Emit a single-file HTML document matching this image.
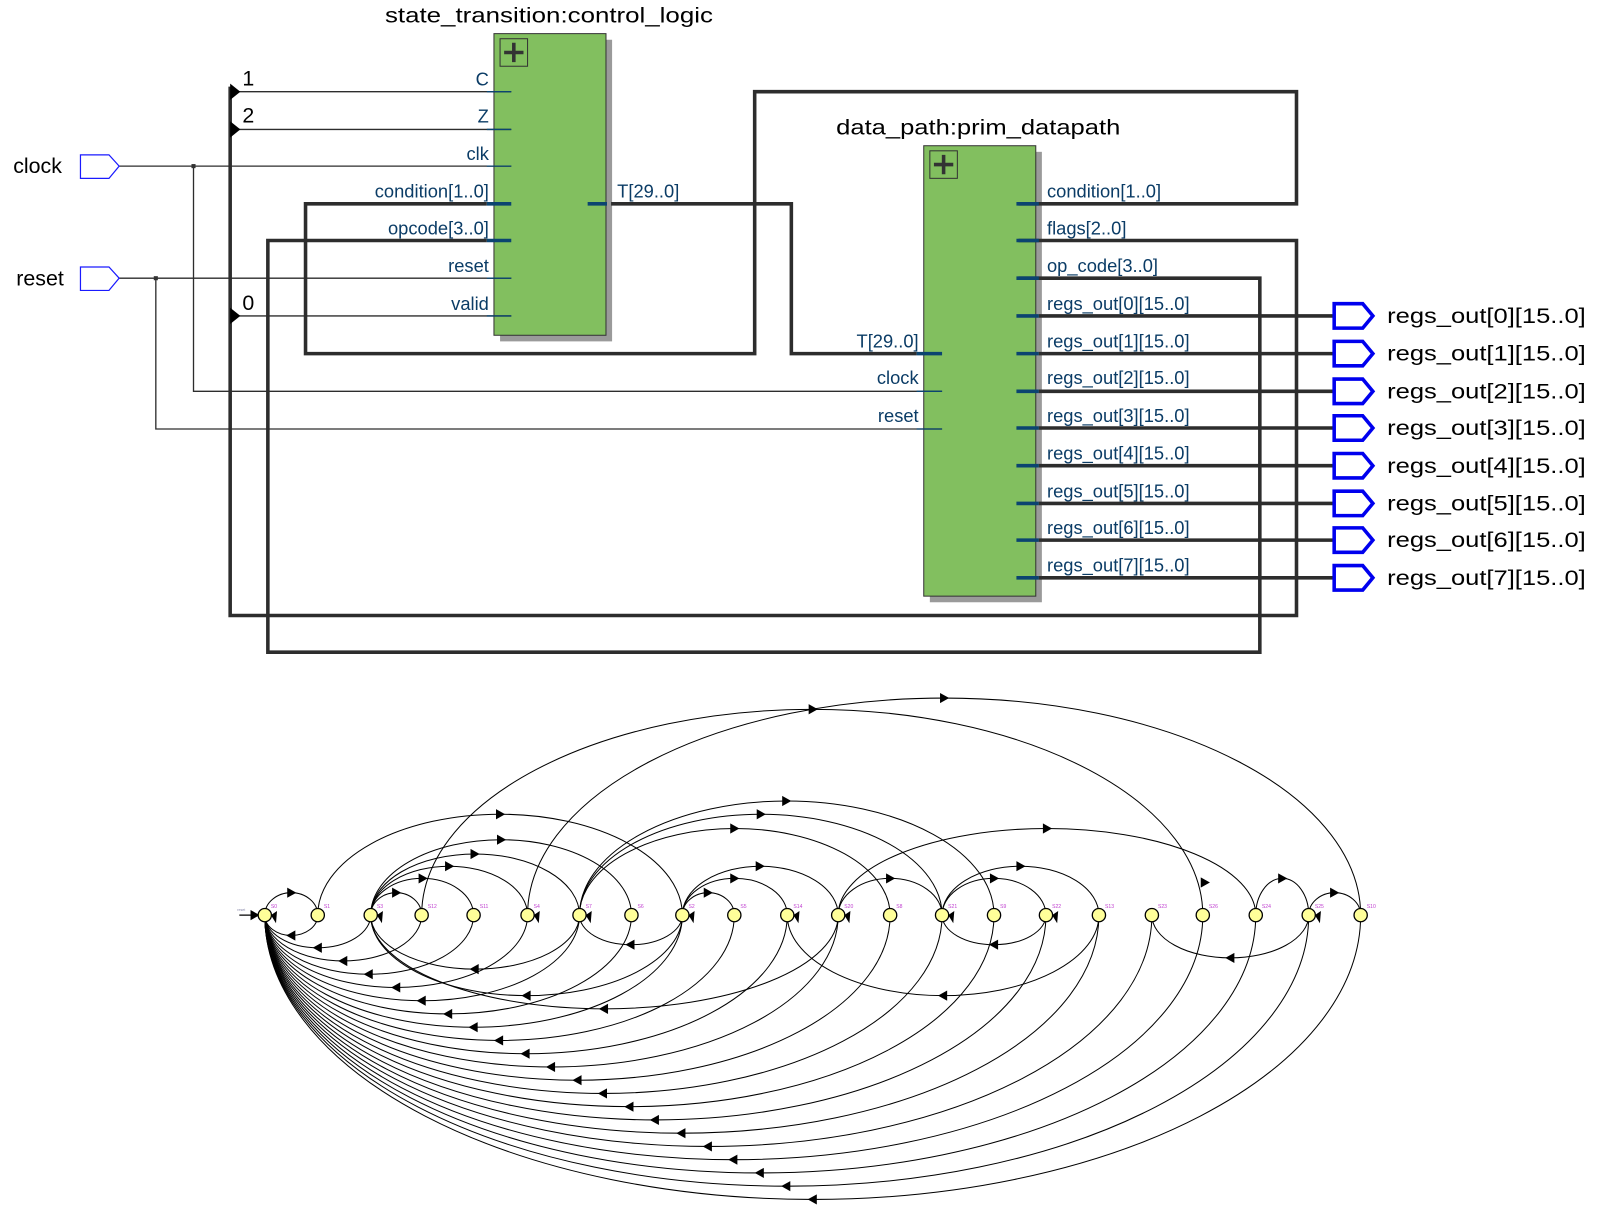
<!DOCTYPE html>
<html><head><meta charset="utf-8"><style>
html,body{margin:0;padding:0;background:#fff;width:1600px;height:1230px;overflow:hidden}
svg{display:block}
.w{fill:none;stroke:#2d2d2d;stroke-width:3.5}
.t{fill:none;stroke:#2d2d2d;stroke-width:1.3}
.pl{font-family:"Liberation Sans",sans-serif;font-size:18px;fill:#0b3c66}
.bl{font-family:"Liberation Sans",sans-serif;font-size:21px;fill:#000}
.a{fill:none;stroke:#000;stroke-width:1}
.nl{font-family:"Liberation Sans",sans-serif;font-size:5px;fill:#c040d0}
</style></head><body>
<svg width="1600" height="1230" viewBox="0 0 1571 1207" preserveAspectRatio="none" xmlns="http://www.w3.org/2000/svg">
<defs>
<path id="ar" d="M5 0 L-4 -5 L-4 5Z" fill="#000"/>
<path id="al" d="M-5 0 L4 -5 L4 5Z" fill="#000"/>
<path id="pt" d="M-6 -8 L4 0 L-6 8Z" fill="#000"/>
</defs>

<!-- blocks -->
<rect x="491" y="39" width="110" height="296" fill="#9a9a9a"/>
<rect x="485" y="33" width="110" height="296" fill="#82bf5f" stroke="#333" stroke-width="1"/>
<rect x="491" y="38" width="27" height="27" fill="none" stroke="#333" stroke-width="1"/>
<path d="M504.5 42 V61 M495 51.5 H514" stroke="#333" stroke-width="3.5"/>
<text class="bl" x="378" y="22" textLength="322" lengthAdjust="spacingAndGlyphs">state_transition:control_logic</text>

<rect x="913" y="149" width="110" height="442" fill="#9a9a9a"/>
<rect x="907" y="143" width="110" height="442" fill="#82bf5f" stroke="#333" stroke-width="1"/>
<rect x="913" y="148" width="27" height="27" fill="none" stroke="#333" stroke-width="1"/>
<path d="M926.5 152 V171 M917 161.5 H936" stroke="#333" stroke-width="3.5"/>
<text class="bl" x="821" y="132" textLength="279" lengthAdjust="spacingAndGlyphs">data_path:prim_datapath</text>

<!-- thick wires -->
<path class="w" d="M226 85 V604 H1273 V236 H1000"/>
<path class="w" d="M1000 200 H1273 V90 H741 V347 H300 V200 H478"/>
<path class="w" d="M600 200 H777 V347 H900"/>
<path class="w" d="M478 236 H263 V640 H1237 V273 H1000"/>
<!-- thin wires -->
<path class="t" d="M117 163 H502 M190 163 V384 H925 M117 273 H502 M153 273 V421 H925"/>
<path class="t" d="M226 90 H502 M226 127 H502 M226 310 H502"/>
<rect x="188" y="161" width="4" height="4" fill="#333"/>
<rect x="151" y="271" width="4" height="4" fill="#333"/>
<use href="#pt" x="232" y="90"/><use href="#pt" x="232" y="127"/><use href="#pt" x="232" y="310"/>
<text class="bl" x="238" y="84" font-size="18">1</text>
<text class="bl" x="238" y="120" font-size="18">2</text>
<text class="bl" x="238" y="304" font-size="18">0</text>

<!-- pin stubs -->
<g stroke="#0b4470" stroke-width="3.5">
<path d="M478 200 H502 M478 236 H502 M577 200 H596 M900 347 H925"/>
<path d="M998 200 H1020 M998 236 H1020 M998 273 H1020 M998 310 H1020 M998 347 H1020 M998 384 H1020 M998 420 H1020 M998 457 H1020 M998 494 H1020 M998 530 H1020 M998 567 H1020"/>
</g>
<g stroke="#0b4470" stroke-width="1.3"><path d="M478 90 H502 M478 127 H502 M478 163 H502 M478 273 H502 M478 310 H502 M900 384 H925 M900 421 H925"/></g>

<!-- pin labels -->
<g class="pl" text-anchor="end">
<text x="480" y="84">C</text><text x="480" y="120">Z</text><text x="480" y="157">clk</text>
<text x="480" y="194">condition[1..0]</text><text x="480" y="230">opcode[3..0]</text>
<text x="480" y="267">reset</text><text x="480" y="304">valid</text>
<text x="902" y="341">T[29..0]</text><text x="902" y="377">clock</text><text x="902" y="414">reset</text>
</g>
<g class="pl">
<text x="606" y="194">T[29..0]</text>
<text x="1028" y="194">condition[1..0]</text><text x="1028" y="230">flags[2..0]</text><text x="1028" y="267">op_code[3..0]</text>
<text x="1028" y="304">regs_out[0][15..0]</text><text x="1028" y="341">regs_out[1][15..0]</text>
<text x="1028" y="377">regs_out[2][15..0]</text><text x="1028" y="414">regs_out[3][15..0]</text>
<text x="1028" y="451">regs_out[4][15..0]</text><text x="1028" y="488">regs_out[5][15..0]</text>
<text x="1028" y="524">regs_out[6][15..0]</text><text x="1028" y="561">regs_out[7][15..0]</text>
</g>

<!-- input ports -->
<g fill="#fff" stroke="#1a1aff" stroke-width="1.2">
<path d="M79 152 H107 L117 163 L107 175 H79Z"/>
<path d="M79 262 H107 L117 273 L107 285 H79Z"/>
</g>
<text class="bl" x="13" y="170">clock</text>
<text class="bl" x="16" y="280">reset</text>

<!-- output ports -->
<g class="w">
<path d="M1020 310 H1310 M1020 347 H1310 M1020 384 H1310 M1020 420 H1310 M1020 457 H1310 M1020 494 H1310 M1020 530 H1310 M1020 567 H1310"/>
</g>
<g fill="#fff" stroke="#0000ee" stroke-width="3.5">
<path d="M1310 298 H1338 L1348 310 L1338 322 H1310Z"/>
<path d="M1310 335 H1338 L1348 347 L1338 359 H1310Z"/>
<path d="M1310 372 H1338 L1348 384 L1338 396 H1310Z"/>
<path d="M1310 408 H1338 L1348 420 L1338 432 H1310Z"/>
<path d="M1310 445 H1338 L1348 457 L1338 469 H1310Z"/>
<path d="M1310 482 H1338 L1348 494 L1338 506 H1310Z"/>
<path d="M1310 518 H1338 L1348 530 L1338 542 H1310Z"/>
<path d="M1310 555 H1338 L1348 567 L1338 579 H1310Z"/>
</g>
<g class="bl">
<text x="1362" y="317" textLength="195" lengthAdjust="spacingAndGlyphs">regs_out[0][15..0]</text>
<text x="1362" y="354" textLength="195" lengthAdjust="spacingAndGlyphs">regs_out[1][15..0]</text>
<text x="1362" y="391" textLength="195" lengthAdjust="spacingAndGlyphs">regs_out[2][15..0]</text>
<text x="1362" y="427" textLength="195" lengthAdjust="spacingAndGlyphs">regs_out[3][15..0]</text>
<text x="1362" y="464" textLength="195" lengthAdjust="spacingAndGlyphs">regs_out[4][15..0]</text>
<text x="1362" y="501" textLength="195" lengthAdjust="spacingAndGlyphs">regs_out[5][15..0]</text>
<text x="1362" y="537" textLength="195" lengthAdjust="spacingAndGlyphs">regs_out[6][15..0]</text>
<text x="1362" y="574" textLength="195" lengthAdjust="spacingAndGlyphs">regs_out[7][15..0]</text>
</g>

<!-- STATE DIAGRAM -->
<g class="a">
<path d="M260 898 A26 22 0 0 1 312 898"/>
<path d="M414 898 A383.5 202 0 0 1 1181 898"/>
<path d="M518 898 A409 213 0 0 1 1336 898"/>
<path d="M312 898 A179 99 0 0 1 670 898"/>
<path d="M364 898 A25 22 0 0 1 414 898"/>
<path d="M364 898 A50.5 36 0 0 1 465 898"/>
<path d="M364 898 A77 48 0 0 1 518 898"/>
<path d="M364 898 A102.5 60 0 0 1 569 898"/>
<path d="M364 898 A128 74 0 0 1 620 898"/>
<path d="M569 898 A152.5 85 0 0 1 874 898"/>
<path d="M569 898 A178 99 0 0 1 925 898"/>
<path d="M569 898 A203.5 112 0 0 1 976 898"/>
<path d="M670 898 A25.5 22 0 0 1 721 898"/>
<path d="M670 898 A51.5 36 0 0 1 773 898"/>
<path d="M670 898 A76.5 48 0 0 1 823 898"/>
<path d="M823 898 A51 36 0 0 1 925 898"/>
<path d="M823 898 A205 85 0 0 1 1233 898"/>
<path d="M925 898 A51 36 0 0 1 1027 898"/>
<path d="M925 898 A77 48 0 0 1 1079 898"/>
<path d="M1233 898 A26 36 0 0 1 1285 898"/>
<path d="M1285 898 A25.5 22 0 0 1 1336 898"/>
<path d="M312 898 A26 20 0 0 1 260 898"/>
<path d="M364 898 A52 32 0 0 1 260 898"/>
<path d="M414 898 A77 45 0 0 1 260 898"/>
<path d="M465 898 A102.5 58 0 0 1 260 898"/>
<path d="M518 898 A129 71 0 0 1 260 898"/>
<path d="M569 898 A154.5 84 0 0 1 260 898"/>
<path d="M620 898 A180 97 0 0 1 260 898"/>
<path d="M670 898 A205 110 0 0 1 260 898"/>
<path d="M721 898 A230.5 123 0 0 1 260 898"/>
<path d="M773 898 A256.5 136 0 0 1 260 898"/>
<path d="M823 898 A281.5 149 0 0 1 260 898"/>
<path d="M874 898 A307 162 0 0 1 260 898"/>
<path d="M925 898 A332.5 175 0 0 1 260 898"/>
<path d="M976 898 A358 188 0 0 1 260 898"/>
<path d="M1027 898 A383.5 201 0 0 1 260 898"/>
<path d="M1079 898 A409.5 214 0 0 1 260 898"/>
<path d="M1131 898 A435.5 227 0 0 1 260 898"/>
<path d="M1181 898 A460.5 240 0 0 1 260 898"/>
<path d="M1233 898 A486.5 253 0 0 1 260 898"/>
<path d="M1285 898 A512.5 266 0 0 1 260 898"/>
<path d="M1336 898 A538 279 0 0 1 260 898"/>
<path d="M670 898 A50.5 29 0 0 1 569 898"/>
<path d="M1027 898 A51 29 0 0 1 925 898"/>
<path d="M1079 898 A153 79 0 0 1 773 898"/>
<path d="M569 898 A102.5 53 0 0 1 364 898"/>
<path d="M670 898 A153 79 0 0 1 364 898"/>
<path d="M823 898 A229.5 92 0 0 1 364 898"/>
<path d="M1285 898 A77 42 0 0 1 1131 898"/>
<path d="M235 898 H254" stroke-width="1.3"/>
</g>
<g>
<use href="#ar" x="286" y="876"/><use href="#ar" x="798" y="696"/><use href="#ar" x="927" y="685"/>
<use href="#ar" x="491" y="799"/><use href="#ar" x="389" y="876"/><use href="#ar" x="415" y="862"/>
<use href="#ar" x="441" y="850"/><use href="#ar" x="466" y="838"/><use href="#ar" x="492" y="824"/>
<use href="#ar" x="721" y="813"/><use href="#ar" x="747" y="799"/><use href="#ar" x="772" y="786"/>
<use href="#ar" x="695" y="876"/><use href="#ar" x="721" y="862"/><use href="#ar" x="746" y="850"/>
<use href="#ar" x="874" y="862"/><use href="#ar" x="1028" y="813"/><use href="#ar" x="976" y="862"/>
<use href="#ar" x="1002" y="850"/><use href="#ar" x="1259" y="862"/><use href="#ar" x="1310" y="876"/>
<use href="#ar" x="1183" y="866"/>
<use href="#al" x="286" y="918"/>
<use href="#al" x="312" y="930"/><use href="#al" x="337" y="943"/><use href="#al" x="362" y="956"/>
<use href="#al" x="389" y="969"/><use href="#al" x="414" y="982"/><use href="#al" x="440" y="995"/>
<use href="#al" x="465" y="1008"/><use href="#al" x="490" y="1021"/><use href="#al" x="516" y="1034"/>
<use href="#al" x="541" y="1047"/><use href="#al" x="567" y="1060"/><use href="#al" x="592" y="1073"/>
<use href="#al" x="618" y="1086"/><use href="#al" x="643" y="1099"/><use href="#al" x="669" y="1112"/>
<use href="#al" x="695" y="1125"/><use href="#al" x="720" y="1138"/><use href="#al" x="746" y="1151"/>
<use href="#al" x="772" y="1164"/><use href="#al" x="798" y="1177"/>
<use href="#al" x="619" y="927"/><use href="#al" x="976" y="927"/><use href="#al" x="926" y="977"/>
<use href="#al" x="466" y="951"/><use href="#al" x="517" y="977"/><use href="#al" x="593" y="990"/>
<use href="#al" x="1208" y="940"/>
<use href="#ar" x="250" y="898"/>
</g>
<g fill="#000">
<path d="M266 898 l6 -4 l-1 12z"/><path d="M370 898 l6 -4 l-1 12z"/><path d="M524 898 l6 -4 l-1 12z"/>
<path d="M575 898 l6 -4 l-1 12z"/><path d="M676 898 l6 -4 l-1 12z"/><path d="M779 898 l6 -4 l-1 12z"/>
<path d="M829 898 l6 -4 l-1 12z"/><path d="M931 898 l6 -4 l-1 12z"/><path d="M1033 898 l6 -4 l-1 12z"/>
<path d="M1291 898 l6 -4 l-1 12z"/>
</g>
<g fill="#ffff99" stroke="#000" stroke-width="1.3">
<circle cx="260" cy="898" r="6.5"/><circle cx="312" cy="898" r="6.5"/><circle cx="364" cy="898" r="6.5"/>
<circle cx="414" cy="898" r="6.5"/><circle cx="465" cy="898" r="6.5"/><circle cx="518" cy="898" r="6.5"/>
<circle cx="569" cy="898" r="6.5"/><circle cx="620" cy="898" r="6.5"/><circle cx="670" cy="898" r="6.5"/>
<circle cx="721" cy="898" r="6.5"/><circle cx="773" cy="898" r="6.5"/><circle cx="823" cy="898" r="6.5"/>
<circle cx="874" cy="898" r="6.5"/><circle cx="925" cy="898" r="6.5"/><circle cx="976" cy="898" r="6.5"/>
<circle cx="1027" cy="898" r="6.5"/><circle cx="1079" cy="898" r="6.5"/><circle cx="1131" cy="898" r="6.5"/>
<circle cx="1181" cy="898" r="6.5"/><circle cx="1233" cy="898" r="6.5"/><circle cx="1285" cy="898" r="6.5"/>
<circle cx="1336" cy="898" r="6.5"/>
</g>
<g class="nl">
<text x="266" y="891">S0</text><text x="318" y="891">S1</text><text x="370" y="891">S3</text><text x="420" y="891">S12</text>
<text x="471" y="891">S11</text><text x="524" y="891">S4</text><text x="575" y="891">S7</text><text x="626" y="891">S6</text>
<text x="676" y="891">S2</text><text x="727" y="891">S5</text><text x="779" y="891">S14</text><text x="829" y="891">S20</text>
<text x="880" y="891">S8</text><text x="931" y="891">S21</text><text x="982" y="891">S9</text><text x="1033" y="891">S22</text>
<text x="1085" y="891">S13</text><text x="1137" y="891">S23</text><text x="1187" y="891">S26</text><text x="1239" y="891">S24</text>
<text x="1291" y="891">S25</text><text x="1342" y="891">S10</text>
<text x="233" y="894" font-size="3.5" fill="#88a">reset</text>
</g>
</svg>
</body></html>
